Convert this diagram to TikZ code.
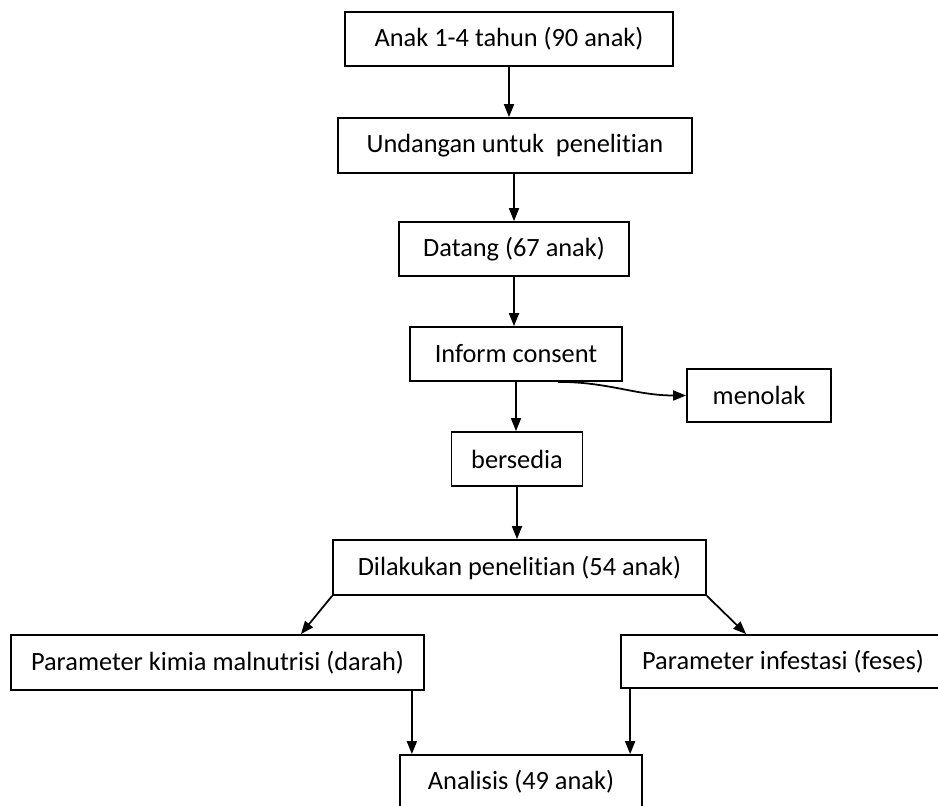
\documentclass[tikz,border=0pt]{standalone}
\usepackage{fontspec}
\setmainfont{Carlito}[Ligatures={NoCommon,NoRequired,NoContextual}]
\usepackage{tikz}
\usetikzlibrary{positioning,calc,arrows.meta}

\tikzset{
    box/.style={draw, line width=1pt, inner sep=0pt, minimum height=1.08cm,
        font=\fontsize{15}{18}\selectfont},
    arr/.style={line width=1pt, -{Triangle[length=0.26cm, width=0.2cm]}}
}

\begin{document}
\begin{tikzpicture}
    \useasboundingbox (0, 0) rectangle (18.76, -16.12);
    \clip (0, 0) rectangle (18.76, -16.12);

    % Main column
    \node [box, minimum width=6.56cm] (anak) at (10.18, -0.78) {Anak 1-4 tahun (90 anak)};
    \node [box, minimum width=7.08cm, minimum height=1.1cm] (undangan) at (10.30, -2.91) {Undangan untuk\ \ penelitian};
    \node [box, minimum width=4.60cm] (datang) at (10.28, -4.98) {Datang (67 anak)};
    \node [box, minimum width=4.24cm] (inform) at (10.32, -7.08) {Inform consent};
    \node [box, minimum width=2.88cm, minimum height=1.06cm] (menolak) at (15.18, -7.91) {menolak};
    \node [box, minimum width=2.62cm] (bersedia) at (10.34, -9.18) {bersedia};
    \node [box, minimum width=7.46cm, minimum height=1.1cm] (dilakukan) at (10.39, -11.35) {Dilakukan penelitian (54 anak)};

    % Two branches
    \node [box, minimum width=8.26cm, minimum height=1.1cm] (kimia) at (4.35, -13.25) {Parameter kimia malnutrisi (darah)};
    \node [box, minimum width=6.48cm, minimum height=1.06cm] (infestasi) at (15.66, -13.23) {Parameter infestasi (feses)};
    \node [box, minimum width=4.84cm] (analisis) at (10.42, -15.64) {Analisis (49 anak)};

    % Connectors
    \draw [arr] (anak.south) -- (anak.south |- undangan.north);
    \draw [arr] (datang.north |- undangan.south) -- (datang.north);
    \draw [arr] (datang.south) -- (datang.south |- inform.north);
    \draw [arr] (inform.south) -- (inform.south |- bersedia.north);
    \draw [arr] ([xshift=-1.3cm]inform.south east) to [out=0, in=180] (menolak.west);
    \coordinate (bersout) at (bersedia.south);
    \draw [arr] (bersout) -- (bersout |- dilakukan.north);
    \draw [arr] (dilakukan.south west) -- ([xshift=-2.48cm]kimia.north east);
    \draw [arr] (dilakukan.south east) -- ([xshift=2.52cm]infestasi.north west);
    \coordinate (kimiaout) at ([xshift=-0.26cm]kimia.south east);
    \coordinate (infout) at ([xshift=0.2cm]infestasi.south west);
    \draw [arr] (kimiaout) -- (kimiaout |- analisis.north);
    \draw [arr] (infout) -- (infout |- analisis.north);
\end{tikzpicture}
\end{document}
